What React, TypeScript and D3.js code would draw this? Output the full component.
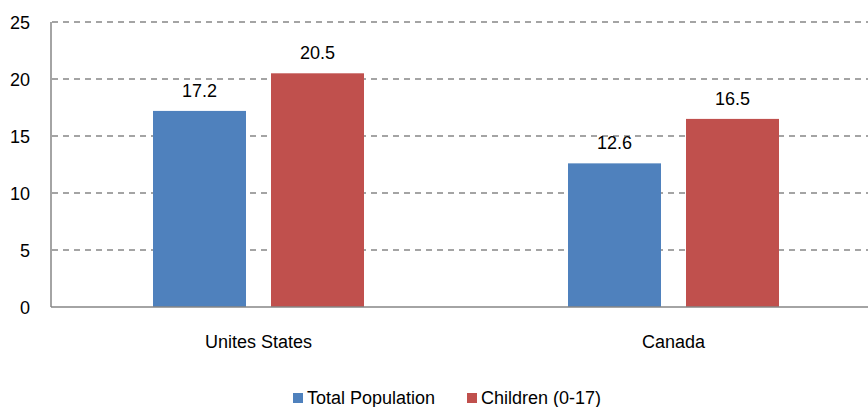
import React from "react";
import * as d3 from "d3";

const categories = ["Unites States", "Canada"];
const seriesNames = ["Total Population", "Children (0-17)"];
const totalPopulation = [17.2, 12.6];
const children = [20.5, 16.5];
const yTicks = [0, 5, 10, 15, 20, 25];
const colors = ["#4F81BD", "#C0504D"];

export default function App() {
  const W = 868, H = 407;
  const x0 = 51, x1 = 881, yTop = 22, yBot = 307;
  const x = d3.scaleBand<string>().domain(categories).range([x0, x1]);
  const y = d3.scaleLinear().domain([0, 25]).range([yBot, yTop]);
  const barW = 93, gap = 25;
  const series = [totalPopulation, children];
  const font = "Arial, 'Liberation Sans', sans-serif";
  return (
    <svg width={W} height={H} style={{ position: "absolute", left: 0, top: 0, fontFamily: font }}>
      {yTicks.filter(t => t > 0).map(t => (
        <line key={t} x1={x0 + 1} x2={W} y1={y(t)} y2={y(t)} stroke="#868686" strokeWidth={1.5} strokeDasharray="6,5" />
      ))}
      {categories.map((c, ci) => {
        const cx = x(c)! + x.bandwidth() / 2;
        const start = cx - (2 * barW + gap) / 2;
        return series.map((s, si) => {
          const bx = start + si * (barW + gap);
          const v = s[ci];
          return (
            <g key={c + si}>
              <rect x={bx} y={y(v)} width={barW} height={yBot - y(v)} fill={colors[si]} />
              <text x={bx + barW / 2} y={y(v) - 14} textAnchor="middle" fontSize={18} fill="#000">{v.toFixed(1)}</text>
            </g>
          );
        });
      })}
      <line x1={x0} x2={x0} y1={yTop} y2={yBot} stroke="#868686" strokeWidth={1.5} />
      <line x1={x0} x2={W} y1={yBot} y2={yBot} stroke="#868686" strokeWidth={1.5} />
      {yTicks.map(t => (
        <text key={t} x={30} y={y(t) + 6.5} textAnchor="end" fontSize={18} fill="#000">{t}</text>
      ))}
      {categories.map(c => (
        <text key={c} x={x(c)! + x.bandwidth() / 2} y={348} textAnchor="middle" fontSize={18} fill="#000">{c}</text>
      ))}
      {seriesNames.map((n, i) => {
        const lx = i === 0 ? 293 : 467;
        return (
          <g key={n}>
            <rect x={lx} y={393} width={10} height={10} fill={colors[i]} />
            <text x={lx + 14} y={404} fontSize={18} fill="#000">{n}</text>
          </g>
        );
      })}
    </svg>
  );
}
